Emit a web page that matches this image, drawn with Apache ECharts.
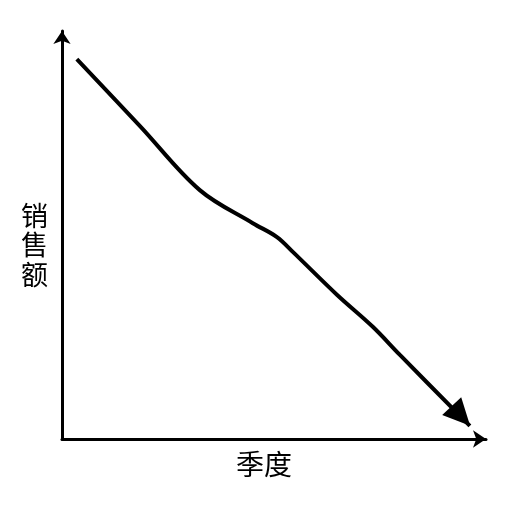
<!DOCTYPE html>
<html>
<head>
<meta charset="utf-8">
<script src="https://cdn.jsdelivr.net/npm/echarts@6/dist/echarts.min.js"></script>
<style>html,body{margin:0;padding:0;background:#fff;}#c{width:512px;height:512px;}</style>
</head>
<body>
<div id="c"></div>
<script>
const xName = '季度';
const yName = '销售额';
const xValues = [3.5, 18.4, 32.5, 45.0, 50.7, 54.5, 64.9, 73.3, 79.7, 96.2];
const yValues = [93.1, 76.7, 61.0, 52.9, 49.5, 45.8, 35.3, 27.5, 20.6, 3.2];

const n = xValues.length;
const data = xValues.map((x, i) => {
  const p = { value: [x, yValues[i]] };
  if (i === n - 1) {
    p.symbol = 'triangle';
    p.symbolSize = [26, 27];
    p.symbolRotate = -137;
    p.symbolOffset = [-9, -10];
    p.itemStyle = { color: '#000' };
  } else {
    p.symbol = 'none';
  }
  return p;
});

const chart = echarts.init(document.getElementById('c'));
const fontFamily = '"Noto Sans CJK SC", "Noto Sans", sans-serif';
chart.setOption({
  animation: false,
  backgroundColor: '#fff',
  grid: { left: 62, right: 26, top: 31, bottom: 73 },
  xAxis: {
    type: 'value', min: 0, max: 100,
    name: xName, nameLocation: 'middle', nameGap: 11,
    nameTextStyle: { color: '#000', fontSize: 28, fontFamily: fontFamily, padding: [0, 20, 0, 0] },
    axisLine: { show: true, lineStyle: { color: '#000', width: 3 }, symbol: ['none', 'arrow'], symbolSize: [13, 13] },
    axisTick: { show: false }, axisLabel: { show: false }, splitLine: { show: false }
  },
  yAxis: {
    type: 'value', min: 0, max: 100,
    name: '{g| }\n' + yName.split('').join('\n'), nameLocation: 'middle', nameGap: 14, nameRotate: 0,
    nameTextStyle: {
      color: '#000', fontSize: 27, lineHeight: 29.5, fontFamily: fontFamily,
      rich: { g: { fontSize: 10, lineHeight: 20 } }
    },
    axisLine: { show: true, lineStyle: { color: '#000', width: 3 }, symbol: ['none', 'arrow'], symbolSize: [13, 13] },
    axisTick: { show: false }, axisLabel: { show: false }, splitLine: { show: false }
  },
  series: [{
    type: 'line',
    data: data,
    smooth: 0.35,
    showSymbol: true,
    lineStyle: { color: '#000', width: 4 },
    itemStyle: { color: '#000' },
    z: 3
  }]
});
</script>
</body>
</html>
